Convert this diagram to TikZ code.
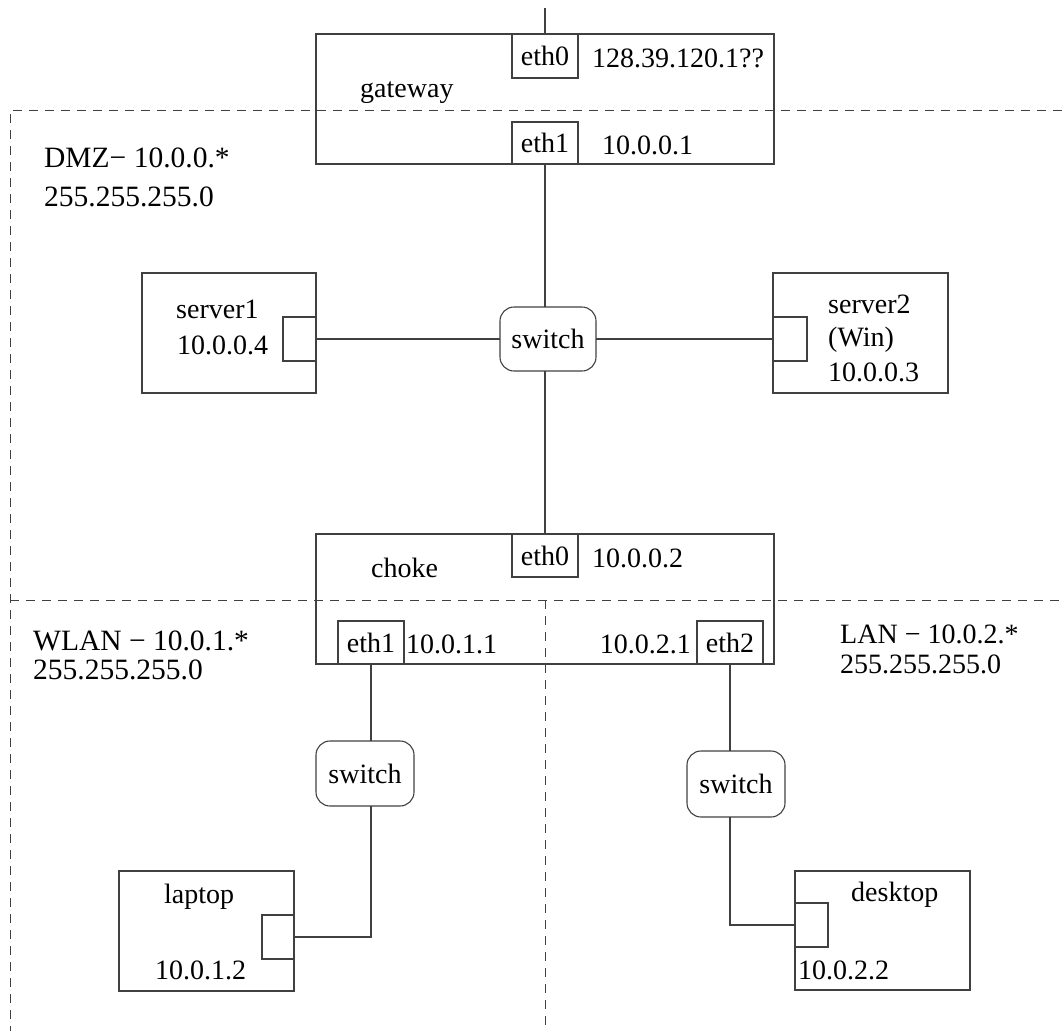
\documentclass[tikz,border=0pt]{standalone}
\usepackage{fontspec}
\setmainfont{Liberation Serif}
\definecolor{linec}{gray}{0.25}
\begin{document}
\begin{tikzpicture}[x=1pt,y=-1pt,
  font=\fontsize{28}{32}\selectfont,
  box/.style={draw=linec, line width=1.1pt, anchor=north west, inner sep=0pt, outer sep=0pt},
  port/.style={box},
  swbox/.style={draw=linec, line width=1.1pt, rounded corners=14pt, inner sep=0pt, outer sep=0pt},
  wire/.style={draw=linec, line width=1.1pt},
  zone/.style={draw=linec, line width=1pt, dash pattern=on 9pt off 7pt},
  lbl/.style={anchor=base west, inner sep=0pt},
  lblr/.style={anchor=base east, inner sep=0pt},
  zonelbl/.style={lbl, font=\fontsize{29.5}{33}\selectfont}]
\useasboundingbox (0,0) rectangle (1062,1031);

% network zone borders
\coordinate (zA) at (10,110);
\coordinate (zB) at (1062,110);
\coordinate (zC) at (10,1031);
\coordinate (zD) at (10,600);
\coordinate (zE) at (1062,600);
\coordinate (zF) at (545,600);
\coordinate (zG) at (545,1031);
\draw[zone] (zB) -- (zA) -- (zC);
\draw[zone] (zD) -- (zE);
\draw[zone] (zF) -- (zG);

% gateway
\node[box, minimum width=458, minimum height=130] (gw) at (316,34) {};
\node[port, minimum width=66, minimum height=44] (g0) at (512,34) {eth0};
\node[port, minimum width=66, minimum height=42] (g1) at (512,122) {eth1};
\node[lbl] (gwname) at (360,97) {gateway};
\node[lbl] (gwip0) at (592,67) {128.39.120.1??};
\node[lbl] (gwip1) at (602,154) {10.0.0.1};
\coordinate (uplink) at (545,8);

% DMZ
\node[zonelbl] (dmz) at (44,167) {DMZ− 10.0.0.*};
\node[zonelbl] (dmzmask) at (44,206) {255.255.255.0};

\node[box, minimum width=174, minimum height=120] (s1) at (142,273) {};
\node[port, minimum width=33, minimum height=44] (p1) at (283,317) {};
\node[lbl] (s1name) at (176,318) {server1};
\node[lbl] (s1ip) at (177,354) {10.0.0.4};

\node[swbox, minimum width=96, minimum height=64] (sw) at (548,339) {switch};

\node[box, minimum width=175, minimum height=120] (s2) at (773,273) {};
\node[port, minimum width=34, minimum height=44] (p2) at (773,317) {};
\node[lbl] (s2name) at (828,313) {server2};
\node[lbl] (s2os) at (828,346) {(Win)};
\node[lbl] (s2ip) at (828,381) {10.0.0.3};

% choke
\node[box, minimum width=458, minimum height=130] (ch) at (316,534) {};
\node[port, minimum width=66, minimum height=43] (c0) at (512,534) {eth0};
\node[port, minimum width=66, minimum height=43] (c1) at (338,621) {eth1};
\node[port, minimum width=66, minimum height=43] (c2) at (697,621) {eth2};
\node[lbl] (chname) at (371,577) {choke};
\node[lbl] (chip0) at (592,567) {10.0.0.2};
\node[lbl] (chip1) at (406,653) {10.0.1.1};
\node[lblr] (chip2) at (691,653) {10.0.2.1};

% WLAN
\node[zonelbl] (wlan) at (33,650) {WLAN − 10.0.1.*};
\node[zonelbl] (wlanmask) at (33,679) {255.255.255.0};
\node[swbox, minimum width=98, minimum height=65] (swa) at (365,773.5) {switch};
\node[box, minimum width=175, minimum height=120] (lap) at (119,871) {};
\node[port, minimum width=32, minimum height=44] (p3) at (262,915) {};
\node[lbl] (lapname) at (164,903) {laptop};
\node[lbl] (lapip) at (155,979) {10.0.1.2};

% LAN
\node[lbl] (lan) at (840,643) {LAN − 10.0.2.*};
\node[lbl] (lanmask) at (840,673) {255.255.255.0};
\node[swbox, minimum width=98, minimum height=66] (swb) at (736,784) {switch};
\node[box, minimum width=175, minimum height=119] (desk) at (795,871) {};
\node[port, minimum width=33, minimum height=44] (p4) at (795,903) {};
\node[lbl] (deskname) at (851,901) {desktop};
\node[lbl] (deskip) at (798,979) {10.0.2.2};

% cabling
\draw[wire] (uplink) -- (g0.north);
\draw[wire] (g1.south) -- (g1.south |- sw.north);
\draw[wire] (p1.east) -- (p1.east -| sw.west);
\draw[wire] (sw.east) -- (sw.east -| p2.west);
\draw[wire] (c0.north |- sw.south) -- (c0.north);
\draw[wire] (c1.south) -- (c1.south |- swa.north);
\draw[wire] (p3.east) -| (c1.south |- swa.south);
\draw[wire] (c2.south) -- (c2.south |- swb.north);
\draw[wire] (p4.west) -| (c2.south |- swb.south);
\end{tikzpicture}
\end{document}
